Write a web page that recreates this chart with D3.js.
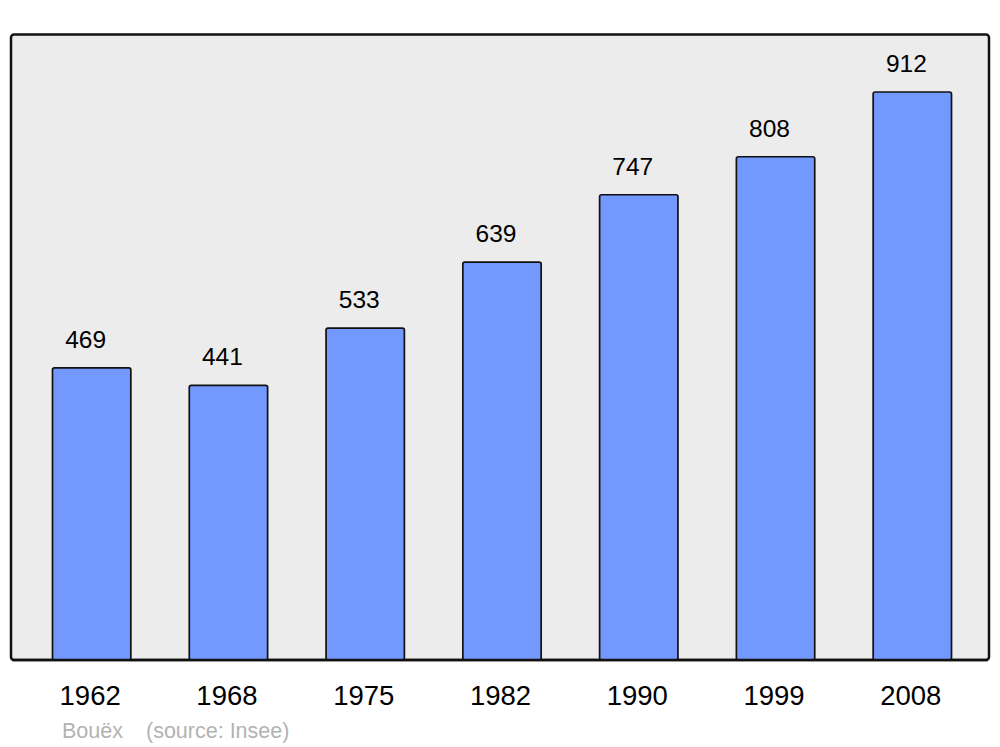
<!DOCTYPE html>
<html>
<head>
<meta charset="utf-8">
<script src="https://cdn.jsdelivr.net/npm/d3@7"></script>
<style>
  html, body { margin: 0; padding: 0; background: #ffffff; }
  svg { display: block; }
</style>
</head>
<body>
<script>
const years = ["1962", "1968", "1975", "1982", "1990", "1999", "2008"];
const population = [469, 441, 533, 639, 747, 808, 912];
const commune = "Bouëx";
const sourceText = "(source: Insee)";

const W = 1000, H = 747;
const svg = d3.select("body").append("svg").attr("width", W).attr("height", H);

// panel
svg.append("rect")
  .attr("x", 11).attr("y", 34.5).attr("width", 978).attr("height", 625.5)
  .attr("rx", 3).attr("ry", 3)
  .attr("fill", "#ececec").attr("stroke", "#111").attr("stroke-width", 2.5);

const x = d3.scaleBand().domain(years).range([52, 952]).paddingInner(0.42).paddingOuter(0);
const y = d3.scaleLinear().domain([0, 912]).range([660, 92]);

const data = years.map((yr, i) => ({ year: yr, value: population[i] }));

svg.append("g").selectAll("rect").data(data).join("rect")
  .attr("x", d => x(d.year) + 0.5)
  .attr("y", d => y(d.value))
  .attr("width", x.bandwidth() - 1)
  .attr("height", d => y(0) - y(d.value))
  .attr("rx", 2).attr("ry", 2)
  .attr("fill", "#7399ff").attr("stroke", "#111").attr("stroke-width", 1.7);

// panel bottom line redrawn over bars
svg.append("line")
  .attr("x1", 12).attr("x2", 988).attr("y1", 660).attr("y2", 660)
  .attr("stroke", "#111").attr("stroke-width", 2.5);

svg.append("g").selectAll("text").data(data).join("text")
  .attr("x", d => x(d.year) + x.bandwidth() / 2 - 6)
  .attr("y", d => y(d.value) - 20)
  .attr("text-anchor", "middle")
  .attr("font-family", "'Liberation Sans', Arial, sans-serif")
  .attr("font-size", 24.5)
  .attr("fill", "#000")
  .text(d => d.value);

// x axis labels
const xAxis = d3.axisBottom(x).tickSize(0).tickPadding(0);
const gx = svg.append("g").attr("transform", "translate(-1.5, 0)").call(xAxis);
gx.select(".domain").remove();
gx.selectAll("text")
  .attr("y", 705).attr("dy", null)
  .attr("font-family", "'Liberation Sans', Arial, sans-serif")
  .attr("font-size", 27.5)
  .attr("fill", "#000");

svg.append("text").attr("x", 62).attr("y", 738)
  .attr("font-family", "'Liberation Sans', Arial, sans-serif")
  .attr("font-size", 21.5).attr("fill", "#b3b3b3").text(commune);
svg.append("text").attr("x", 146).attr("y", 738)
  .attr("font-family", "'Liberation Sans', Arial, sans-serif")
  .attr("font-size", 21.5).attr("fill", "#b3b3b3").text(sourceText);
</script>
</body>
</html>
